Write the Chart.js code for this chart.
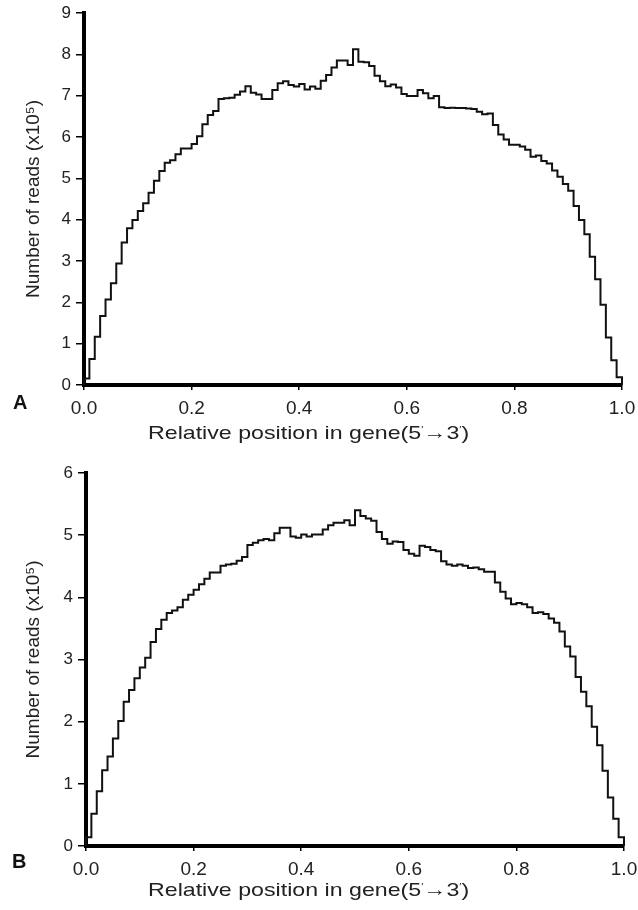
<!DOCTYPE html>
<html>
<head>
<meta charset="utf-8">
<script src="https://cdn.jsdelivr.net/npm/chart.js@4.4.1/dist/chart.umd.min.js"></script>
<style>
  body { margin: 0; background: #fff; width: 638px; height: 910px; position: relative; overflow: hidden; font-family: "Liberation Sans", Arial, sans-serif; }
  .box { position: absolute; left: 0; width: 638px; }
  .tag { position: absolute; font-weight: bold; font-size: 20px; color: #111; }
  .xt { position: absolute; left: 148px; font-size: 19px; line-height: 22px; color: #222; white-space: nowrap; transform: scaleX(1.22); transform-origin: left center; }
  .xt sup { font-size: 9px; vertical-align: 7px; }
</style>
</head>
<body>
<div class="box" style="top:0;height:445px"><canvas id="chartA" width="638" height="445"></canvas></div>
<div class="box" style="top:445px;height:465px"><canvas id="chartB" width="638" height="465"></canvas></div>
<div class="tag" style="left:13px;top:391px">A</div>
<div class="tag" style="left:12px;top:850px">B</div>
<div class="xt" style="top:418px">Relative position in gene(5<sup>&#8242;</sup>&rarr;3<sup>&#8242;</sup>)</div>
<div class="xt" style="top:875px">Relative position in gene(5<sup>&#8242;</sup>&rarr;3<sup>&#8242;</sup>)</div>
<script>
// Panel A: reads per bin (x10^5), 100 bins along gene
const readsA = [
  0.16, 0.63, 1.17, 1.67, 2.07, 2.46, 2.94, 3.45, 3.79, 3.99,
  4.21, 4.40, 4.65, 4.94, 5.18, 5.38, 5.44, 5.58, 5.72, 5.72,
  5.83, 6.02, 6.31, 6.53, 6.63, 6.92, 6.94, 6.95, 7.02, 7.10,
  7.23, 7.07, 7.03, 6.92, 6.92, 7.14, 7.30, 7.35, 7.26, 7.22,
  7.28, 7.15, 7.22, 7.17, 7.36, 7.50, 7.68, 7.85, 7.85, 7.74,
  8.12, 7.82, 7.81, 7.72, 7.48, 7.35, 7.23, 7.27, 7.20, 7.04,
  6.99, 6.99, 7.14, 7.06, 6.94, 6.99, 6.72, 6.70, 6.71, 6.70,
  6.70, 6.69, 6.68, 6.61, 6.55, 6.57, 6.29, 6.06, 5.94, 5.81,
  5.81, 5.77, 5.69, 5.52, 5.55, 5.42, 5.36, 5.19, 5.04, 4.86,
  4.70, 4.33, 3.99, 3.65, 3.10, 2.56, 1.94, 1.15, 0.60, 0.19
];

// Panel B
const readsB = [
  0.14, 0.52, 0.88, 1.22, 1.44, 1.73, 2.01, 2.32, 2.51, 2.70,
  2.87, 3.03, 3.28, 3.49, 3.64, 3.75, 3.79, 3.84, 3.96, 4.04,
  4.12, 4.21, 4.30, 4.40, 4.40, 4.51, 4.53, 4.54, 4.59, 4.65,
  4.84, 4.88, 4.92, 4.94, 4.92, 5.03, 5.12, 5.12, 4.98, 4.96,
  5.01, 4.98, 5.01, 5.01, 5.09, 5.16, 5.20, 5.20, 5.24, 5.16,
  5.40, 5.31, 5.27, 5.23, 5.05, 4.94, 4.86, 4.90, 4.89, 4.76,
  4.70, 4.67, 4.83, 4.81, 4.76, 4.74, 4.58, 4.53, 4.51, 4.53,
  4.51, 4.47, 4.48, 4.45, 4.41, 4.41, 4.24, 4.09, 3.98, 3.89,
  3.91, 3.89, 3.84, 3.75, 3.76, 3.73, 3.66, 3.59, 3.45, 3.21,
  3.05, 2.72, 2.48, 2.25, 1.92, 1.62, 1.21, 0.78, 0.44, 0.14
];

const xTicks = [0, 0.2, 0.4, 0.6, 0.8, 1.0];
const yTitle = "Number of reads (x10\u2075)";

// bins -> step points (bin left edge, value), closed at x=1
function stepPoints(values) {
  const n = values.length;
  const pts = [{ x: 0, y: 0 }];
  values.forEach((v, i) => pts.push({ x: i / n, y: v }));
  pts.push({ x: 1, y: values[n - 1] });
  pts.push({ x: 1, y: 0 });
  return pts;
}

function makeChart(id, values, yMax, opt) {
  const ctx = document.getElementById(id).getContext("2d");
  return new Chart(ctx, {
    type: "line",
    data: {
      datasets: [{
        data: stepPoints(values),
        stepped: "before",
        borderColor: "#111",
        borderWidth: 2,
        pointRadius: 0,
        fill: false,
        clip: false
      }]
    },
    options: {
      responsive: false,
      animation: false,
      layout: { padding: { top: opt.padTop, right: opt.padRight, left: 0, bottom: 0 } },
      plugins: { legend: { display: false }, tooltip: { enabled: false } },
      scales: {
        x: {
          type: "linear",
          min: 0,
          max: 1,
          afterBuildTicks: s => { s.ticks = xTicks.map(v => ({ value: v })); },
          afterFit: s => { s.height = opt.xHeight; s.paddingLeft = 0; s.paddingRight = 0; },
          ticks: {
            callback: v => v.toFixed(1),
            font: { size: 19, family: "Liberation Sans" },
            color: "#222",
            padding: 7,
            maxRotation: 0
          },
          grid: { drawOnChartArea: false, drawTicks: true, tickLength: 5, color: "#000", lineWidth: 1.5 },
          border: { display: true, color: "#000", width: 4 }
        },
        y: {
          min: 0,
          max: yMax,
          afterFit: s => { s.width = opt.yWidth; s.paddingTop = 0; s.paddingBottom = 0; },
          ticks: {
            stepSize: 1,
            font: { size: 17, family: "Liberation Sans" },
            color: "#222",
            padding: 5
          },
          grid: { drawOnChartArea: false, drawTicks: true, tickLength: 8, color: "#000", lineWidth: 1.5 },
          border: { display: true, color: "#000", width: 4 },
          title: {
            display: true,
            text: yTitle,
            font: { size: 19, family: "Liberation Sans" },
            color: "#222",
            padding: { top: 22, bottom: 0 }
          }
        }
      }
    }
  });
}

makeChart("chartA", readsA, 9, { padTop: 13, padRight: 16, xHeight: 60, yWidth: 84 });
makeChart("chartB", readsB, 6, { padTop: 28, padRight: 14, xHeight: 64, yWidth: 86 });
</script>
</body>
</html>
